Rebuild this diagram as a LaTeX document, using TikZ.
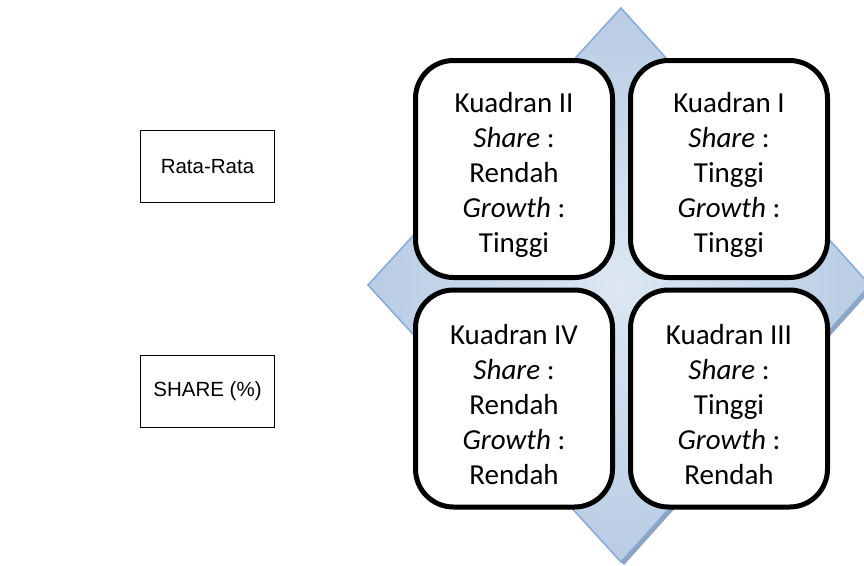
\documentclass[tikz,border=0pt]{standalone}
\usepackage{fontspec}
\setmainfont{Carlito}
\newfontfamily\arialf{Liberation Sans}
\definecolor{dmdin}{HTML}{DDE7F3}
\definecolor{dmdout}{HTML}{B8CCE4}
\definecolor{dmdedge}{HTML}{86AAD8}
\definecolor{dmdshadow}{HTML}{8FA3BD}
\begin{document}
\begin{tikzpicture}[x=1pt,y=-1pt,
  quad/.style={draw=black, line width=5pt, fill=white, rounded corners=38pt,
    minimum width=197pt, minimum height=217pt, inner sep=0pt},
  qtext/.style={align=center, inner sep=0pt, font=\fontsize{29}{35}\selectfont},
  lbox/.style={draw=black, line width=1.5pt, fill=white,
    minimum width=134pt, minimum height=72pt, inner sep=0pt,
    font=\arialf\fontsize{20.5}{24}\selectfont}]
\useasboundingbox (0,0) rectangle (864,565);
% diamond with shadow
\fill[dmdshadow] (624,11) -- (873,288) -- (624,565) -- (371,288) -- cycle;
\shade[inner color=dmdin, outer color=dmdout, draw=dmdedge, line width=1.5pt]
  (621,8) -- (870,285) -- (621,562) -- (368,285) -- cycle;
% left labels
\node[lbox] (rata) at (207.5,166.5) {Rata-Rata};
\node[lbox] (share) at (207.5,391.5) {SHARE (\%)};
% quadrants
\node[quad] (q2) at (514,169) {};
\node[quad] (q1) at (729,169) {};
\node[quad] (q4) at (514,398.5) {};
\node[quad] (q3) at (729,398.5) {};
\node[qtext] (t2) at ([yshift=-6pt]q2.center) {Kuadran II\\\textit{Share} :\\Rendah\\\textit{Growth} :\\Tinggi};
\node[qtext] (t1) at ([yshift=-6pt]q1.center) {Kuadran I\\\textit{Share} :\\Tinggi\\\textit{Growth} :\\Tinggi};
\node[qtext] (t4) at ([yshift=-6pt]q4.center) {Kuadran IV\\\textit{Share} :\\Rendah\\\textit{Growth} :\\Rendah};
\node[qtext] (t3) at ([yshift=-6pt]q3.center) {Kuadran III\\\textit{Share} :\\Tinggi\\\textit{Growth} :\\Rendah};
\end{tikzpicture}
\end{document}
